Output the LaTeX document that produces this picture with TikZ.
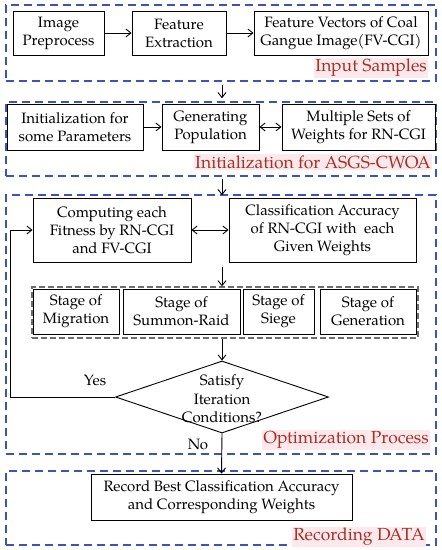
\documentclass[tikz,border=0pt]{standalone}
\usepackage{fontspec}
\setmainfont{TeX Gyre Pagella}
\usetikzlibrary{arrows.meta,shapes.geometric}
\definecolor{frameblue}{RGB}{62,82,190}
\definecolor{labred}{RGB}{165,50,40}
\definecolor{labpink}{RGB}{253,232,236}
\definecolor{stagegray}{RGB}{110,110,110}
\begin{document}
\begin{tikzpicture}[x=1pt,y=-1pt,
  box/.style={draw=black,line width=0.9pt,align=center,inner sep=0pt,font=\fontsize{15}{18}\selectfont},
  frame/.style={draw=frameblue,line width=1.6pt,dash pattern=on 8pt off 5pt,inner sep=0pt},
  lab/.style={fill=labpink,text=labred,inner sep=1pt,anchor=east,font=\fontsize{17.5}{20}\selectfont},
  arr/.style={-{Straight Barb[length=5pt,width=8pt]},line width=0.9pt},
  darr/.style={{Straight Barb[length=5pt,width=8pt]}-{Straight Barb[length=5pt,width=8pt]},line width=0.9pt},
  txt/.style={font=\fontsize{15}{18.5}\selectfont,inner sep=0pt,align=center}]
\useasboundingbox (0,0) rectangle (442,550);
% frames
\node[frame,minimum width=430,minimum height=76] (f1) at (221,43) {};
\node[frame,minimum width=430,minimum height=74] (f2) at (221,139) {};
\node[frame,minimum width=430,minimum height=259] (f3) at (221,324.5) {};
\node[frame,minimum width=430,minimum height=74] (f4) at (221,508) {};
% labels
\node[lab] (l1) at (428,68) {Input Samples};
\node[lab] (l2) at (432,162) {Initialization for ASGS-CWOA};
\node[lab] (l3) at (430,440) {Optimization Process};
\node[lab] (l4) at (426,537) {Recording DATA};
% row 1
\node[box,minimum width=91,minimum height=44] (ip) at (58.5,33) {Image\\Preprocess};
\node[box,minimum width=94,minimum height=44] (fe) at (179,33) {Feature\\Extraction};
\node[box,minimum width=174,minimum height=44] (fv) at (341,33) {Feature Vectors of Coal\\Gangue Image(FV-CGI)};
% row 2
\node[box,minimum width=136,minimum height=46] (in) at (75,127) {Initialization for\\some Parameters};
\node[box,minimum width=97,minimum height=46] (gp) at (210.5,127) {Generating\\Population};
\node[box,minimum width=153,minimum height=46] (ms) at (358.5,127) {Multiple Sets of\\Weights for RN-CGI};
% row 3
\node[box,minimum width=158,minimum height=64] (cf) at (112,230) {Computing each\\Fitness by RN-CGI\\and FV-CGI};
\node[box,minimum width=187,minimum height=64] (ca) at (322.5,230) {Classification Accuracy\\of RN-CGI with\ \ each\\Given Weights};
% stages
\node[draw=stagegray,line width=1.3pt,dash pattern=on 6pt off 3pt,minimum width=386,minimum height=51,inner sep=0pt] (stg) at (225,312.5) {};
\node[box,minimum width=86,minimum height=45] (s1) at (76,311.5) {Stage of\\Migration};
\node[box,minimum width=117,minimum height=45] (s2) at (181.5,311.5) {Stage of\\Summon-Raid};
\node[box,minimum width=71,minimum height=45] (s3) at (278.5,311.5) {Stage of\\Siege};
\node[box,minimum width=96,minimum height=45] (s4) at (368,311.5) {Stage of\\Generation};
% decision
\node[draw=black,line width=0.9pt,shape=diamond,minimum width=213,minimum height=72,inner sep=0pt] (dm) at (222,397) {};
\node[txt] (dmt) at (222,399) {Satisfy\\Iteration\\Conditions?};
% record
\node[box,minimum width=261,minimum height=46] (rb) at (221.5,497) {Record Best Classification Accuracy\\and Corresponding Weights};
% yes/no
\node[txt] (yes) at (95,380) {Yes};
\node[txt] (no) at (198,444) {No};
\coordinate (lp) at (10,230);
% connectors
\draw[arr] (ip.east) -- (fe.west);
\draw[arr] (fe.east) -- (fv.west);
\draw[arr] ([xshift=1pt,yshift=-3pt]f1.south) -- ([xshift=1pt,yshift=3pt]f2.north);
\draw[arr] (in.east) -- (gp.west);
\draw[darr] (gp.east) -- (ms.west);
\draw[arr] ([xshift=1pt,yshift=-2pt]f2.south) -- ([xshift=1pt,yshift=-1pt]f3.north);
\draw[darr] (cf.east) -- (ca.west);
\draw[arr] ([xshift=-3pt,yshift=-5pt]stg.north |- cf.south) -- ([xshift=-3pt]stg.north);
\draw[arr] ([xshift=-3pt]stg.south) -- (dm.north);
\draw[arr] (dm.west) -| (lp) -- (cf.west);
\draw[arr] (dm.south) -- (rb.north);
\end{tikzpicture}
\end{document}
